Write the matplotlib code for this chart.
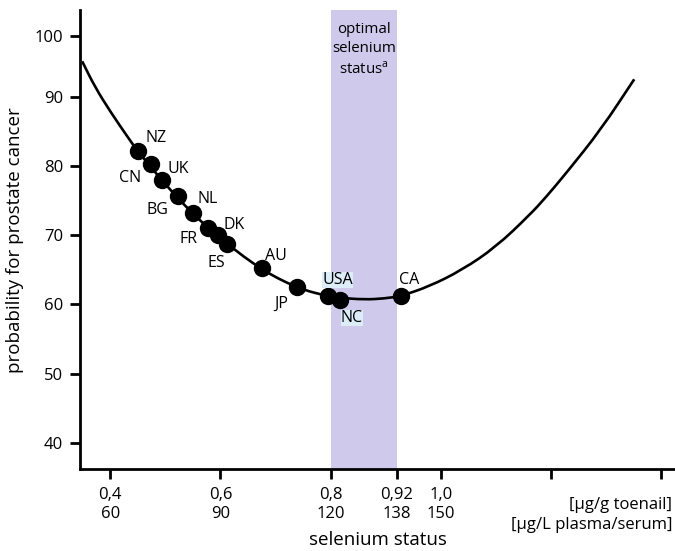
import matplotlib.pyplot as plt
import matplotlib.transforms as mtransforms
from matplotlib.path import Path
from matplotlib.patches import PathPatch

plt.rcParams['font.family'] = ['Open Sans', 'DejaVu Sans']

# Countries on the curve (toenail selenium µg/g, probability %)
countries = ["NZ", "CN", "UK", "BG", "NL", "FR", "DK", "ES", "AU", "JP", "USA", "NC", "CA"]
country_se = [0.450, 0.473, 0.494, 0.522, 0.550, 0.577, 0.595, 0.612, 0.675, 0.738, 0.796, 0.817, 0.927]
country_prob = [82.1, 80.2, 78.0, 75.6, 73.2, 71.1, 70.0, 68.7, 65.3, 62.5, 61.2, 60.7, 61.2]

# Curve
curve_se = [0.349, 0.372, 0.402, 0.433, 0.450, 0.473, 0.494, 0.522, 0.550, 0.577, 0.595,
            0.612, 0.642, 0.675, 0.703, 0.738, 0.764, 0.796, 0.817, 0.861, 0.897, 0.927,
            0.979, 1.039, 1.100, 1.161, 1.191, 1.230, 1.291, 1.351]
curve_prob = [95.1, 91.4, 87.6, 84.0, 82.1, 79.9, 77.9, 75.4, 73.1, 71.1, 69.9,
              68.8, 66.9, 65.1, 63.8, 62.5, 61.8, 61.2, 60.95, 60.7, 60.85, 61.2,
              62.6, 65.0, 68.3, 72.9, 75.5, 79.2, 85.3, 92.5]

# Optimal band and axis ticks
optimal_range = (0.80, 0.92)
xtick_toenail = [0.4, 0.6, 0.8, 0.92, 1.0, 1.2, 1.4]
xtick_labels = ["0,4\n60", "0,6\n90", "0,8\n120", "0,92\n138", "1,0\n150", "", ""]
ytick_labels = ["40", "50", "60", "70", "80", "90", "100"]

# label offsets in pixels (dx, dy)
label_offsets = [(18, 13), (-20, -14), (16, 11), (-20, -14), (15, 14), (-19, -11), (16, 10),
                 (-11, -19), (14, 12), (-15, -17), (9, 16), (12, -18), (8, 16)]

fig = plt.figure(figsize=(6.75, 5.51), dpi=100)
ax = fig.add_axes([0.1185, 0.1483, 0.8815, 0.8335])

ax.axvspan(optimal_range[0], optimal_range[1], color="#cfc9ec", lw=0, zorder=0)

# smooth curve: quadratic bezier through the midpoints of the read points
pts = list(zip(curve_se, curve_prob))
verts = [pts[0], ((pts[0][0] + pts[1][0]) / 2, (pts[0][1] + pts[1][1]) / 2)]
codes = [Path.MOVETO, Path.LINETO]
for i in range(1, len(pts) - 1):
    mid = ((pts[i][0] + pts[i + 1][0]) / 2, (pts[i][1] + pts[i + 1][1]) / 2)
    verts += [pts[i], mid]
    codes += [Path.CURVE3, Path.CURVE3]
verts.append(pts[-1])
codes.append(Path.LINETO)
ax.add_patch(PathPatch(Path(verts, codes), facecolor="none", edgecolor="black",
                       lw=1.9, zorder=2, capstyle="butt"))

ax.plot(country_se, country_prob, "o", color="black", ms=11.5, zorder=3)

for name, x, y, (dx, dy) in zip(countries, country_se, country_prob, label_offsets):
    bbox = None
    if name in ("USA", "NC"):
        bbox = dict(facecolor="#dcecf8", edgecolor="none", pad=0)
    ax.annotate(name, (x, y), xytext=(dx, dy), textcoords="offset pixels",
                ha="center", va="center", fontsize=11.5, bbox=bbox, zorder=4)

ax.text(sum(optimal_range) / 2, 100.8, "optimal\nselenium\nstatus$^{\\mathregular{a}}$",
        ha="center", va="top", fontsize=10.8, linespacing=1.4)

ax.set_xlim(0.345, 1.425)
ax.set_ylim(36.2, 102.5)

ax.set_yticks([40, 50, 60, 70, 80, 90, 98.7])
ax.set_yticklabels(ytick_labels)
ax.set_xticks(xtick_toenail)
ax.set_xticklabels(xtick_labels, linespacing=1.2)

ax.tick_params(axis="both", direction="out", length=7, width=2, labelsize=12, pad=5)
ax.tick_params(axis="x", pad=6)

for s in ["top", "right"]:
    ax.spines[s].set_visible(False)
for s in ["left", "bottom"]:
    ax.spines[s].set_linewidth(2)

trans = mtransforms.blended_transform_factory(fig.transFigure, ax.transAxes)
ax.text(0.996, -0.077, "[µg/g toenail]", transform=trans, ha="right", va="center", fontsize=12)
ax.text(0.996, -0.121, "[µg/L plasma/serum]", transform=trans, ha="right", va="center", fontsize=12)

ax.set_xlabel("selenium status", fontsize=13.5, labelpad=7)
ax.set_ylabel("probability for prostate cancer", fontsize=13.5, labelpad=8)

fig.savefig("out.png", dpi=100)
